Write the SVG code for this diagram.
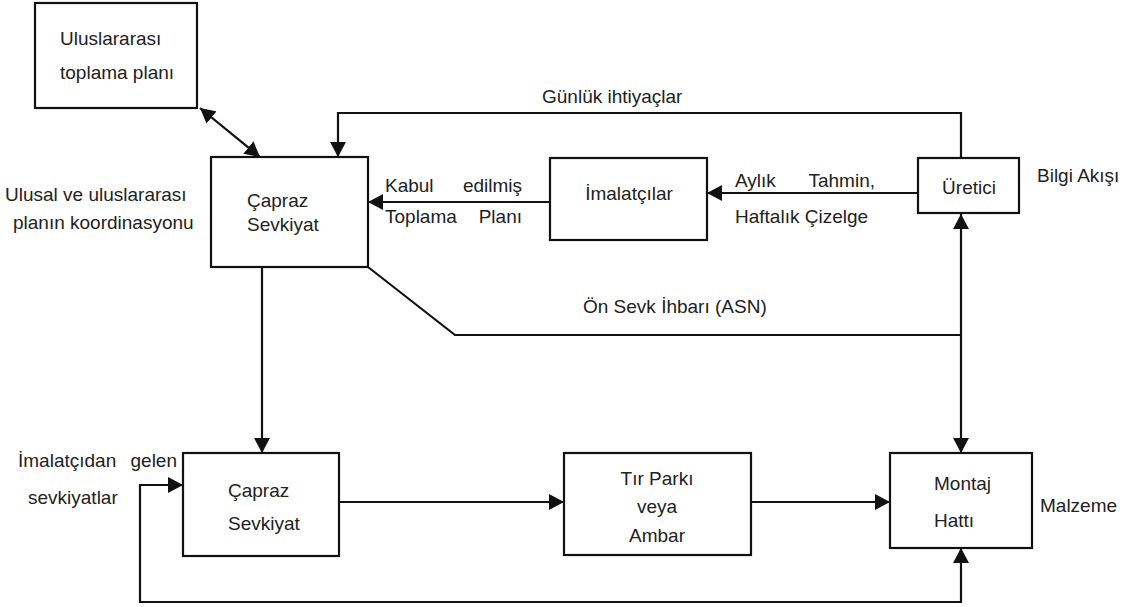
<svg xmlns="http://www.w3.org/2000/svg" width="1133" height="607" viewBox="0 0 1133 607">
  <style>
    .box { fill: #ffffff; stroke: #111111; stroke-width: 2.2; }
    .line { fill: none; stroke: #111111; stroke-width: 2.2; }
    text { font-family: "Liberation Sans", Arial, sans-serif; font-size: 19px; fill: #222222; }
    .mid { text-anchor: middle; }
    .end { text-anchor: end; }
  </style>
  <defs>
    <marker id="arrow" markerUnits="userSpaceOnUse" markerWidth="15" markerHeight="16" refX="15" refY="8" orient="auto-start-reverse">
      <path d="M0,0 L15,8 L0,16 Z" fill="#111111"/>
    </marker>
  </defs>

  <rect width="1133" height="607" fill="#ffffff"/>

  <!-- connectors -->
  <g id="connectors">
    <!-- international plan <-> cross-dock (top) -->
    <line class="line" x1="200" y1="108" x2="260" y2="157" marker-start="url(#arrow)" marker-end="url(#arrow)"/>
    <!-- daily requirements: producer -> cross-dock (top) -->
    <path class="line" d="M961,158 V113 H338 V157" marker-end="url(#arrow)"/>
    <!-- producer -> manufacturers -->
    <line class="line" x1="918" y1="193" x2="707" y2="193" marker-end="url(#arrow)"/>
    <!-- manufacturers -> cross-dock (top) -->
    <line class="line" x1="550" y1="202" x2="368" y2="202" marker-end="url(#arrow)"/>
    <!-- advance shipping notice -->
    <path class="line" d="M368,267 L455,335 H961"/>
    <!-- producer <-> assembly line -->
    <line class="line" x1="961" y1="214" x2="961" y2="453" marker-start="url(#arrow)" marker-end="url(#arrow)"/>
    <!-- cross-dock (top) -> cross-dock (bottom) -->
    <line class="line" x1="262" y1="267" x2="262" y2="453" marker-end="url(#arrow)"/>
    <!-- cross-dock (bottom) -> truck yard -->
    <line class="line" x1="339" y1="502" x2="564" y2="502" marker-end="url(#arrow)"/>
    <!-- truck yard -> assembly line -->
    <line class="line" x1="751" y1="502" x2="890" y2="502" marker-end="url(#arrow)"/>
    <!-- incoming shipments loop -->
    <path class="line" d="M183,485 H140 V602 H961 V548" marker-start="url(#arrow)" marker-end="url(#arrow)"/>
  </g>

  <!-- nodes -->
  <g id="node-uluslararasi">
    <rect class="box" x="35" y="3" width="162" height="105"/>
    <text x="60" y="45">Uluslararası</text>
    <text x="60" y="79">toplama planı</text>
  </g>

  <g id="node-capraz-ust">
    <rect class="box" x="211" y="157" width="157" height="110"/>
    <text x="247" y="207">Çapraz</text>
    <text x="247" y="231">Sevkiyat</text>
  </g>

  <g id="node-imalatcilar">
    <rect class="box" x="550" y="158" width="157" height="82"/>
    <text x="629" y="200" class="mid">İmalatçılar</text>
  </g>

  <g id="node-uretici">
    <rect class="box" x="918" y="158" width="101" height="55"/>
    <text x="969" y="194" class="mid">Üretici</text>
  </g>

  <g id="node-capraz-alt">
    <rect class="box" x="183" y="453" width="156" height="103"/>
    <text x="228" y="497">Çapraz</text>
    <text x="228" y="530">Sevkiyat</text>
  </g>

  <g id="node-tir-parki">
    <rect class="box" x="564" y="453" width="187" height="102"/>
    <text x="657" y="485" class="mid">Tır Parkı</text>
    <text x="657" y="513" class="mid">veya</text>
    <text x="657" y="542" class="mid">Ambar</text>
  </g>

  <g id="node-montaj">
    <rect class="box" x="890" y="453" width="142" height="95"/>
    <text x="934" y="490">Montaj</text>
    <text x="934" y="527">Hattı</text>
  </g>

  <!-- free labels -->
  <g id="labels">
    <text x="542" y="103">Günlük ihtiyaçlar</text>
    <text x="385" y="192">Kabul</text>
    <text x="522" y="192" class="end">edilmiş</text>
    <text x="385" y="223">Toplama</text>
    <text x="522" y="223" class="end">Planı</text>
    <text x="735" y="187">Aylık</text>
    <text x="875" y="187" class="end">Tahmin,</text>
    <text x="735" y="223">Haftalık Çizelge</text>
    <text x="1037" y="182">Bilgi Akışı</text>
    <text x="5" y="201">Ulusal ve uluslararası</text>
    <text x="13" y="229">planın koordinasyonu</text>
    <text x="583" y="313">Ön Sevk İhbarı (ASN)</text>
    <text x="18" y="467">İmalatçıdan</text>
    <text x="177" y="467" class="end">gelen</text>
    <text x="28" y="504">sevkiyatlar</text>
    <text x="1040" y="512">Malzeme</text>
  </g>
</svg>
